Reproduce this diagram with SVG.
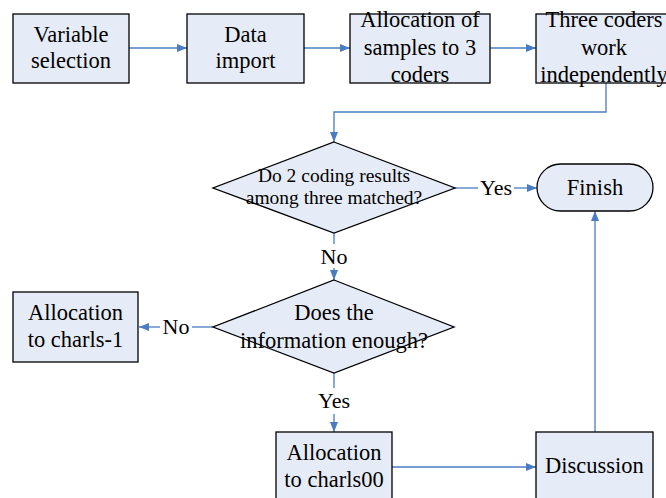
<svg xmlns="http://www.w3.org/2000/svg" width="666" height="498" viewBox="0 0 666 498">
<style>
.box{fill:#E6ECF7;stroke:#000;stroke-width:1.3}
.t{font-family:"Liberation Serif","Times New Roman",Times,"DejaVu Serif",serif;font-size:22.5px;fill:#000;text-anchor:middle}
.s{font-size:19.5px}
.c{fill:none;stroke:#4A7CC4;stroke-width:1.3}
.lbl{font-family:"Liberation Serif","Times New Roman",Times,"DejaVu Serif",serif;font-size:22px;fill:#000;text-anchor:middle}
</style>
<defs>
<marker id="a" markerWidth="10" markerHeight="8" refX="10" refY="4" orient="auto" markerUnits="userSpaceOnUse">
<path d="M0,0 L10,4 L0,8 Z" fill="#4A7CC4"/>
</marker>
</defs>
<rect width="666" height="498" fill="#fff"/>
<g id="connectors">
<path class="c" d="M129,48 H187" marker-end="url(#a)"/>
<path class="c" d="M304,48 H350" marker-end="url(#a)"/>
<path class="c" d="M490,48 H536" marker-end="url(#a)"/>
<path class="c" d="M606,83 V112 H334 V142" marker-end="url(#a)"/>
<path class="c" d="M455,188 H478"/>
<path class="c" d="M514,188 H537" marker-end="url(#a)"/>
<path class="c" d="M334,233 V244"/>
<path class="c" d="M334,268 V280" marker-end="url(#a)"/>
<path class="c" d="M213,327 H192"/>
<path class="c" d="M160,327 H139" marker-end="url(#a)"/>
<path class="c" d="M334,373 V388"/>
<path class="c" d="M334,414 V432" marker-end="url(#a)"/>
<path class="c" d="M392,467 H536" marker-end="url(#a)"/>
<path class="c" d="M595,432 V211" marker-end="url(#a)"/>
<text class="lbl" x="496" y="195">Yes</text>
<text class="lbl" x="334" y="264">No</text>
<text class="lbl" x="176" y="334">No</text>
<text class="lbl" x="334" y="408">Yes</text>
</g>
<g id="n1"><rect class="box" x="13" y="14" width="116" height="69"/>
<text class="t" x="71" y="42">Variable</text><text class="t" x="71" y="68">selection</text></g>
<g id="n2"><rect class="box" x="187" y="14" width="117" height="69"/>
<text class="t" x="245.5" y="42">Data</text><text class="t" x="245.5" y="68">import</text></g>
<g id="n3"><rect class="box" x="350" y="14" width="140" height="69"/>
<text class="t" x="420" y="27">Allocation of</text><text class="t" x="420" y="55">samples to 3</text><text class="t" x="420" y="82">coders</text></g>
<g id="n4"><rect class="box" x="536" y="14" width="140" height="69"/>
<text class="t" x="604" y="27">Three coders</text><text class="t" x="604" y="55">work</text><text class="t" x="604" y="82">independently</text></g>
<g id="d1"><polygon class="box" points="334,142 455,188 334,233 213,188"/>
<text class="t s" x="334" y="182">Do 2 coding results</text><text class="t s" x="334" y="204">among three matched?</text></g>
<g id="finish"><rect class="box" x="537" y="164" width="116" height="47" rx="23.5"/>
<text class="t" x="595" y="195">Finish</text></g>
<g id="d2"><polygon class="box" points="334,280 454,327 334,373 213,327"/>
<text class="t" x="334" y="320">Does the</text><text class="t" x="334" y="348">information enough?</text></g>
<g id="n5"><rect class="box" x="13" y="292" width="125" height="70"/>
<text class="t" x="75.5" y="320">Allocation</text><text class="t" x="75.5" y="347">to charls-1</text></g>
<g id="n6"><rect class="box" x="276" y="432" width="116" height="70"/>
<text class="t" x="334" y="460">Allocation</text><text class="t" x="334" y="487">to charls00</text></g>
<g id="n7"><rect class="box" x="536" y="432" width="117" height="70"/>
<text class="t" x="594.5" y="473">Discussion</text></g>
</svg>
